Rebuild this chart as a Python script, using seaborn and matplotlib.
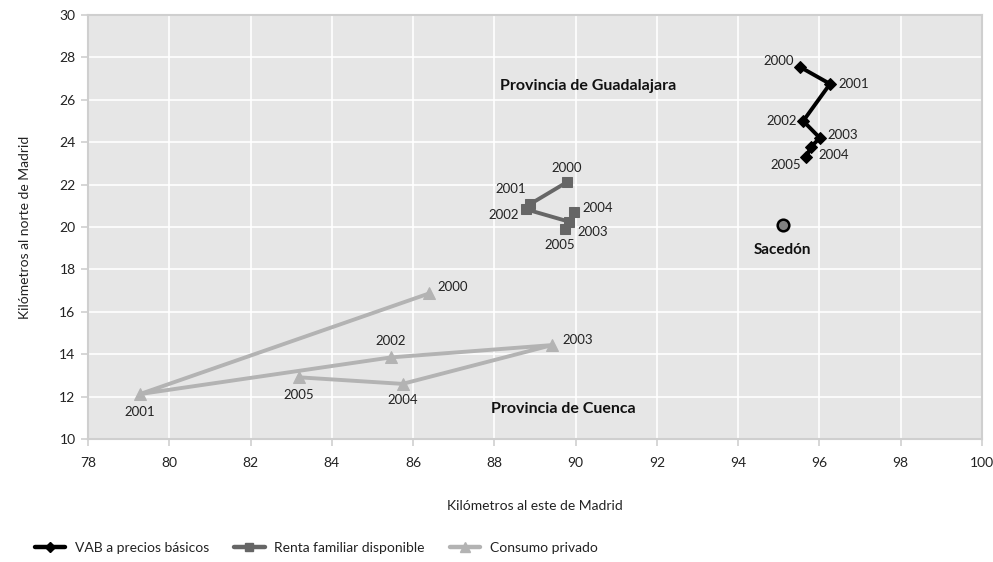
import matplotlib
matplotlib.use("Agg")
import matplotlib.pyplot as plt
import seaborn as sns
import pandas as pd
from matplotlib.lines import Line2D

years = ["2000", "2001", "2002", "2003", "2004", "2005"]

vab_x = [95.52, 96.26, 95.60, 96.01, 95.78, 95.68]
vab_y = [27.55, 26.75, 25.00, 24.20, 23.76, 23.30]

renta_x = [89.79, 88.88, 88.79, 89.84, 89.97, 89.75]
renta_y = [22.12, 21.08, 20.83, 20.25, 20.70, 19.89]

consumo_x = [86.40, 79.28, 85.46, 89.42, 85.74, 83.19]
consumo_y = [16.87, 12.12, 13.85, 14.43, 12.60, 12.91]

sacedon_x = [95.1]
sacedon_y = [20.1]

series_names = ["VAB a precios básicos", "Renta familiar disponible", "Consumo privado"]

region_labels = ["Provincia de Guadalajara", "Provincia de Cuenca"]
region_x = [90.3, 89.7]
region_y = [26.65, 11.4]

x_ticks = [78, 80, 82, 84, 86, 88, 90, 92, 94, 96, 98, 100]
y_ticks = [10, 12, 14, 16, 18, 20, 22, 24, 26, 28, 30]

# styles
colors = ["#000000", "#666666", "#b3b3b3"]
markers = ["D", "s", "^"]
msizes = [6, 7, 8]
# label offsets in pixels (dx, dy, ha, va)
offsets = [
    [(-6, 6, "right", "center"), (8, 0, "left", "center"), (-6, 0, "right", "center"),
     (8, 3, "left", "center"), (8, -8, "left", "center"), (-5, -8, "right", "center")],
    [(0, 14, "center", "center"), (-4, 15, "right", "center"), (-8, -6, "right", "center"),
     (8, -10, "left", "center"), (8, 4, "left", "center"), (-6, -16, "center", "center")],
    [(8, 6, "left", "center"), (0, -18, "center", "center"), (0, 16, "center", "center"),
     (10, 5, "left", "center"), (0, -16, "center", "center"), (0, -18, "center", "center")],
]

sns.set_theme(style="darkgrid")
plt.rcParams["font.family"] = ["Lato", "DejaVu Sans"]

fig = plt.figure(figsize=(9.93, 5.62), dpi=100)
ax = fig.add_axes([88 / 993, 1 - 439 / 562, (982 - 88) / 993, (439 - 15) / 562])
ax.set_facecolor("#e6e6e6")

data = [(vab_x, vab_y), (renta_x, renta_y), (consumo_x, consumo_y)]
for i, (xs, ys) in enumerate(data):
    df = pd.DataFrame({"x": xs, "y": ys, "year": years})
    sns.lineplot(data=df, x="x", y="y", sort=False, estimator=None, ax=ax,
                 color=colors[i], linewidth=2.8, marker=markers[i], markersize=msizes[i],
                 markeredgecolor=colors[i], zorder=3 + (2 - i))
    for j, yr in enumerate(years):
        dx, dy, ha, va = offsets[i][j]
        ax.annotate(yr, (xs[j], ys[j]), xytext=(dx, dy), textcoords="offset pixels",
                    ha=ha, va=va, fontsize=9.5, color="#222222", zorder=6)

sdf = pd.DataFrame({"x": sacedon_x, "y": sacedon_y})
sns.scatterplot(data=sdf, x="x", y="y", ax=ax, s=70, color="#808080",
                edgecolor="#000000", linewidth=1.8, zorder=6)
ax.annotate("Sacedón", (sacedon_x[0], sacedon_y[0]), xytext=(0, -25), textcoords="offset pixels",
            ha="center", va="center", fontsize=11, fontweight="bold", color="#111111")

for lab, rx, ry in zip(region_labels, region_x, region_y):
    ax.text(rx, ry, lab, ha="center", va="center", fontsize=11.5, fontweight="bold", color="#111111")

ax.set_xlim(78, 100)
ax.set_ylim(10, 30)
ax.set_xticks(x_ticks)
ax.set_yticks(y_ticks)
ax.grid(True, color="white", linewidth=1.2)
ax.set_axisbelow(True)
for sp in ax.spines.values():
    sp.set_visible(True)
    sp.set_color("#cfcfcf")
    sp.set_linewidth(1.5)
ax.tick_params(axis="both", which="both", length=5, width=1.2, color="#cfcfcf",
               labelsize=10, labelcolor="#222222", pad=4)
ax.tick_params(axis="x", pad=8)
ax.tick_params(bottom=True, left=True)
ax.set_xlabel("Kilómetros al este de Madrid", fontsize=10, color="#222222", labelpad=22)
ax.set_ylabel("Kilómetros al norte de Madrid", fontsize=10, color="#222222", labelpad=20)

handles = [Line2D([0], [0], color=colors[i], linewidth=3.2, marker=markers[i],
                  markersize=msizes[i] - 1, markeredgecolor=colors[i]) for i in range(3)]
fig.legend(handles, series_names, loc="lower left", bbox_to_anchor=(22 / 993, -0.008),
           ncol=3, frameon=False, fontsize=10, handlelength=2.2, columnspacing=1.8,
           handletextpad=0.7, labelcolor="#222222")

fig.savefig("out.png", dpi=100)
